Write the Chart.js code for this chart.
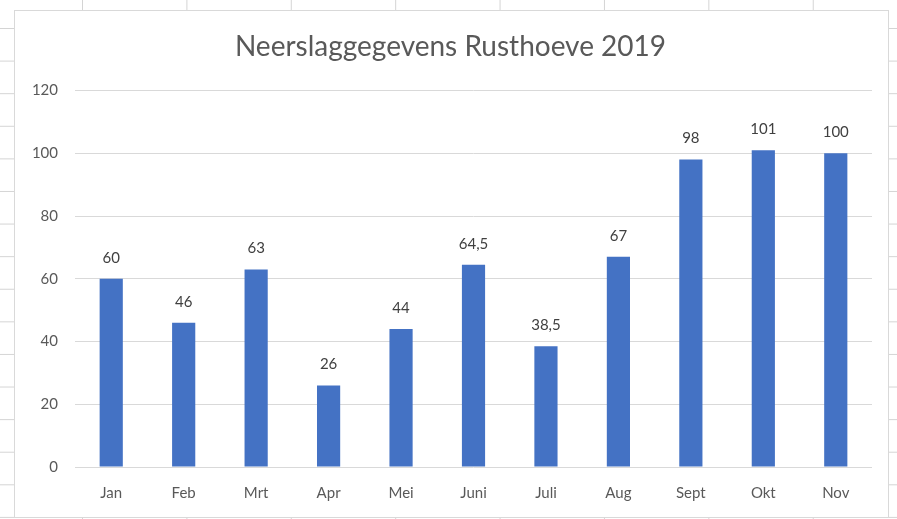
<!DOCTYPE html>
<html>
<head>
<meta charset="utf-8">
<script src="https://cdn.jsdelivr.net/npm/chart.js@4.4.0/dist/chart.umd.min.js"></script>
<style>
    html, body { margin: 0; padding: 0; }
    body {
        width: 897px;
        height: 519px;
        overflow: hidden;
        background-color: #fff;
        background-image:
            linear-gradient(to right, #d4d4d4 1px, transparent 1px),
            linear-gradient(to bottom, #d4d4d4 1px, transparent 1px);
        background-size: 104.4px 32.6px;
        background-position: 82px 28px;
        position: relative;
    }
    #box {
        position: absolute;
        left: 14px;
        top: 10px;
        width: 873px;
        height: 506px;
        background: #fff;
        border: 1px solid #d9d9d9;
    }
</style>
</head>
<body>
<div id="box"><canvas id="rain"></canvas></div>
<script>
var months = ['Jan', 'Feb', 'Mrt', 'Apr', 'Mei', 'Juni', 'Juli', 'Aug', 'Sept', 'Okt', 'Nov'];
var rainfall = [60, 46, 63, 26, 44, 64.5, 38.5, 67, 98, 101, 100];
var yTicks = [0, 20, 40, 60, 80, 100, 120];

// labels above the bars, with a decimal comma like in Excel
var barLabels = {
    id: 'barLabels',
    afterDatasetsDraw: function (chart) {
        var ctx = chart.ctx;
        var meta = chart.getDatasetMeta(0);
        ctx.save();
        ctx.font = '15px Lato, "Open Sans", sans-serif';
        ctx.fillStyle = '#404040';
        ctx.textAlign = 'center';
        ctx.textBaseline = 'middle';
        meta.data.forEach(function (bar, i) {
            var txt = String(rainfall[i]).replace('.', ',');
            ctx.fillText(txt, bar.x, bar.y - 21);
        });
        ctx.restore();
    }
};

var ctx = document.getElementById('rain').getContext('2d');
var chart = new Chart(ctx, {
    type: 'bar',
    data: {
        labels: months,
        datasets: [
            {
                label: 'Neerslag',
                backgroundColor: '#4472C4',
                data: rainfall,
                categoryPercentage: 1,
                barPercentage: 0.32
            }
        ]
    },
    options: {
        responsive: true,
        maintainAspectRatio: false,
        animation: false,
        layout: {
            padding: { left: 14, right: 16, top: 6, bottom: -3 }
        },
        plugins: {
            title: {
                display: true,
                text: 'Neerslaggegevens Rusthoeve 2019',
                color: '#595959',
                font: { family: 'Lato, "Open Sans", sans-serif', size: 28, weight: 'normal' },
                padding: { top: 13, bottom: 27 }
            },
            legend: { display: false },
            tooltip: { enabled: false }
        },
        scales: {
            x: {
                grid: { display: false, drawTicks: false },
                border: { display: false },
                ticks: {
                    color: '#595959',
                    padding: 19,
                    font: { family: 'Lato, "Open Sans", sans-serif', size: 15, lineHeight: 1 }
                }
            },
            y: {
                min: 0,
                max: 120,
                afterBuildTicks: function (axis) {
                    axis.ticks = yTicks.map(function (v) { return { value: v }; });
                },
                afterFit: function (axis) {
                    axis.width = 46;
                },
                grid: { color: '#d9d9d9', drawTicks: false },
                border: { display: false },
                ticks: {
                    color: '#595959',
                    padding: 17,
                    font: { family: 'Lato, "Open Sans", sans-serif', size: 15 }
                }
            }
        }
    },
    plugins: [barLabels]
});
</script>
</body>
</html>
